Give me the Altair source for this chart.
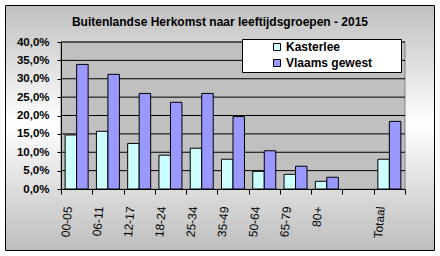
import altair as alt
import pandas as pd

# ---- data ----
categories = ["00-05", "06-11", "12-17", "18-24", "25-34", "35-49", "50-64", "65-79", "80+", " ", "Totaal"]
kasterlee = [14.7, 15.7, 12.4, 9.2, 11.1, 8.1, 4.8, 4.0, 2.1, None, 8.1]
vlaams = [33.9, 31.2, 26.0, 23.6, 26.0, 19.7, 10.4, 6.2, 3.2, None, 18.4]
series = ["Kasterlee", "Vlaams gewest"]
colors = ["#CCFFFF", "#9999FF"]
y_ticks = [0.0, 0.05, 0.10, 0.15, 0.20, 0.25, 0.30, 0.35, 0.40]
title_text = "Buitenlandse Herkomst naar leeftijdsgroepen - 2015"

rows = []
for c, k, v in zip(categories, kasterlee, vlaams):
    if k is not None:
        rows.append({"cat": c, "series": series[0], "value": k / 100})
    if v is not None:
        rows.append({"cat": c, "series": series[1], "value": v / 100})
df = pd.DataFrame(rows)
grid_df = pd.DataFrame({"v": y_ticks[1:]})
one = pd.DataFrame({"i": [0]})
title_df = pd.DataFrame({"t": [title_text]})

FONT = "Liberation Sans"
W, H = 344, 147
PAD = {"left": 61, "top": 42, "right": 35, "bottom": 67}

yscale = alt.Scale(domain=[0, 0.4], nice=False)
yaxis = alt.Axis(
    title=None, values=y_ticks, grid=False, zindex=1,
    labelExpr="replace(format(datum.value, '.1%'), '.', ',')",
    labelFont=FONT, labelFontSize=11.5, labelFontWeight="bold", labelColor="black",
    tickSize=4, tickColor="black", domainColor="black", labelPadding=8,
)
xaxis = alt.Axis(
    title=None, tickBand="extent", grid=False, zindex=1,
    labelAngle=-85, labelFont=FONT, labelFontSize=12, labelColor="black",
    labelPadding=12, labelOffset=-9,
    tickSize=5, tickColor="black", domainColor="black",
)

gradient = {
    "gradient": "linear", "x1": 0, "x2": 0, "y1": 0, "y2": 1,
    "stops": [
        {"offset": 0, "color": "#C0C0C0"},
        {"offset": 0.48, "color": "#FFFFFF"},
        {"offset": 1, "color": "#BDBDBD"},
    ],
}

bg = alt.Chart(one).mark_rect(fill=gradient, stroke="black", strokeWidth=1).encode(
    x=alt.value(-55.5), x2=alt.value(373.5), y=alt.value(-36.5), y2=alt.value(208.5)
)
title = alt.Chart(title_df).mark_text(
    font=FONT, fontSize=12, fontWeight="bold", color="black",
    align="center", baseline="alphabetic",
).encode(text="t:N", x=alt.value(159), y=alt.value(-16.5))
plot_bg = alt.Chart(one).mark_rect(fill="#C0C0C0", stroke="#808080", strokeWidth=1).encode(
    x=alt.value(0), x2=alt.value(W), y=alt.value(0), y2=alt.value(H)
)
grid = alt.Chart(grid_df).mark_rule(color="black", strokeWidth=1).encode(
    y=alt.Y("v:Q", scale=yscale, axis=yaxis)
)
bars = alt.Chart(df).mark_bar(stroke="black", strokeWidth=1).encode(
    x=alt.X("cat:N", sort=categories,
            scale=alt.Scale(domain=categories, paddingInner=0, paddingOuter=0), axis=xaxis),
    xOffset=alt.XOffset("series:N", sort=series,
                        scale=alt.Scale(domain=series, paddingInner=0, paddingOuter=0.36)),
    y=alt.Y("value:Q", scale=yscale, axis=yaxis),
    color=alt.Color("series:N", sort=series,
                    scale=alt.Scale(domain=series, range=colors),
                    legend=alt.Legend(
                        title=None, orient="none", legendX=210, legendY=-1,
                        symbolType="square", symbolSize=49,
                        symbolStrokeColor="black", symbolStrokeWidth=1,
                        labelFont=FONT, labelFontSize=12, labelFontWeight="bold",
                        labelColor="black", labelOffset=3, rowPadding=4, padding=0,
                    )),
)
legend_box = alt.Chart(one).mark_rect(fill="white", stroke="black", strokeWidth=1).encode(
    x=alt.value(181.5), x2=alt.value(340.5), y=alt.value(-2.5), y2=alt.value(30.5)
)

chart = alt.layer(bg, title, plot_bg, grid, bars, legend_box).properties(
    width=W, height=H,
    padding=PAD,
    autosize=alt.AutoSizeParams(type="none"),
).configure_view(strokeWidth=0).configure(background="white")

chart.save("out.html", embed_options={"renderer": "svg", "actions": False})
